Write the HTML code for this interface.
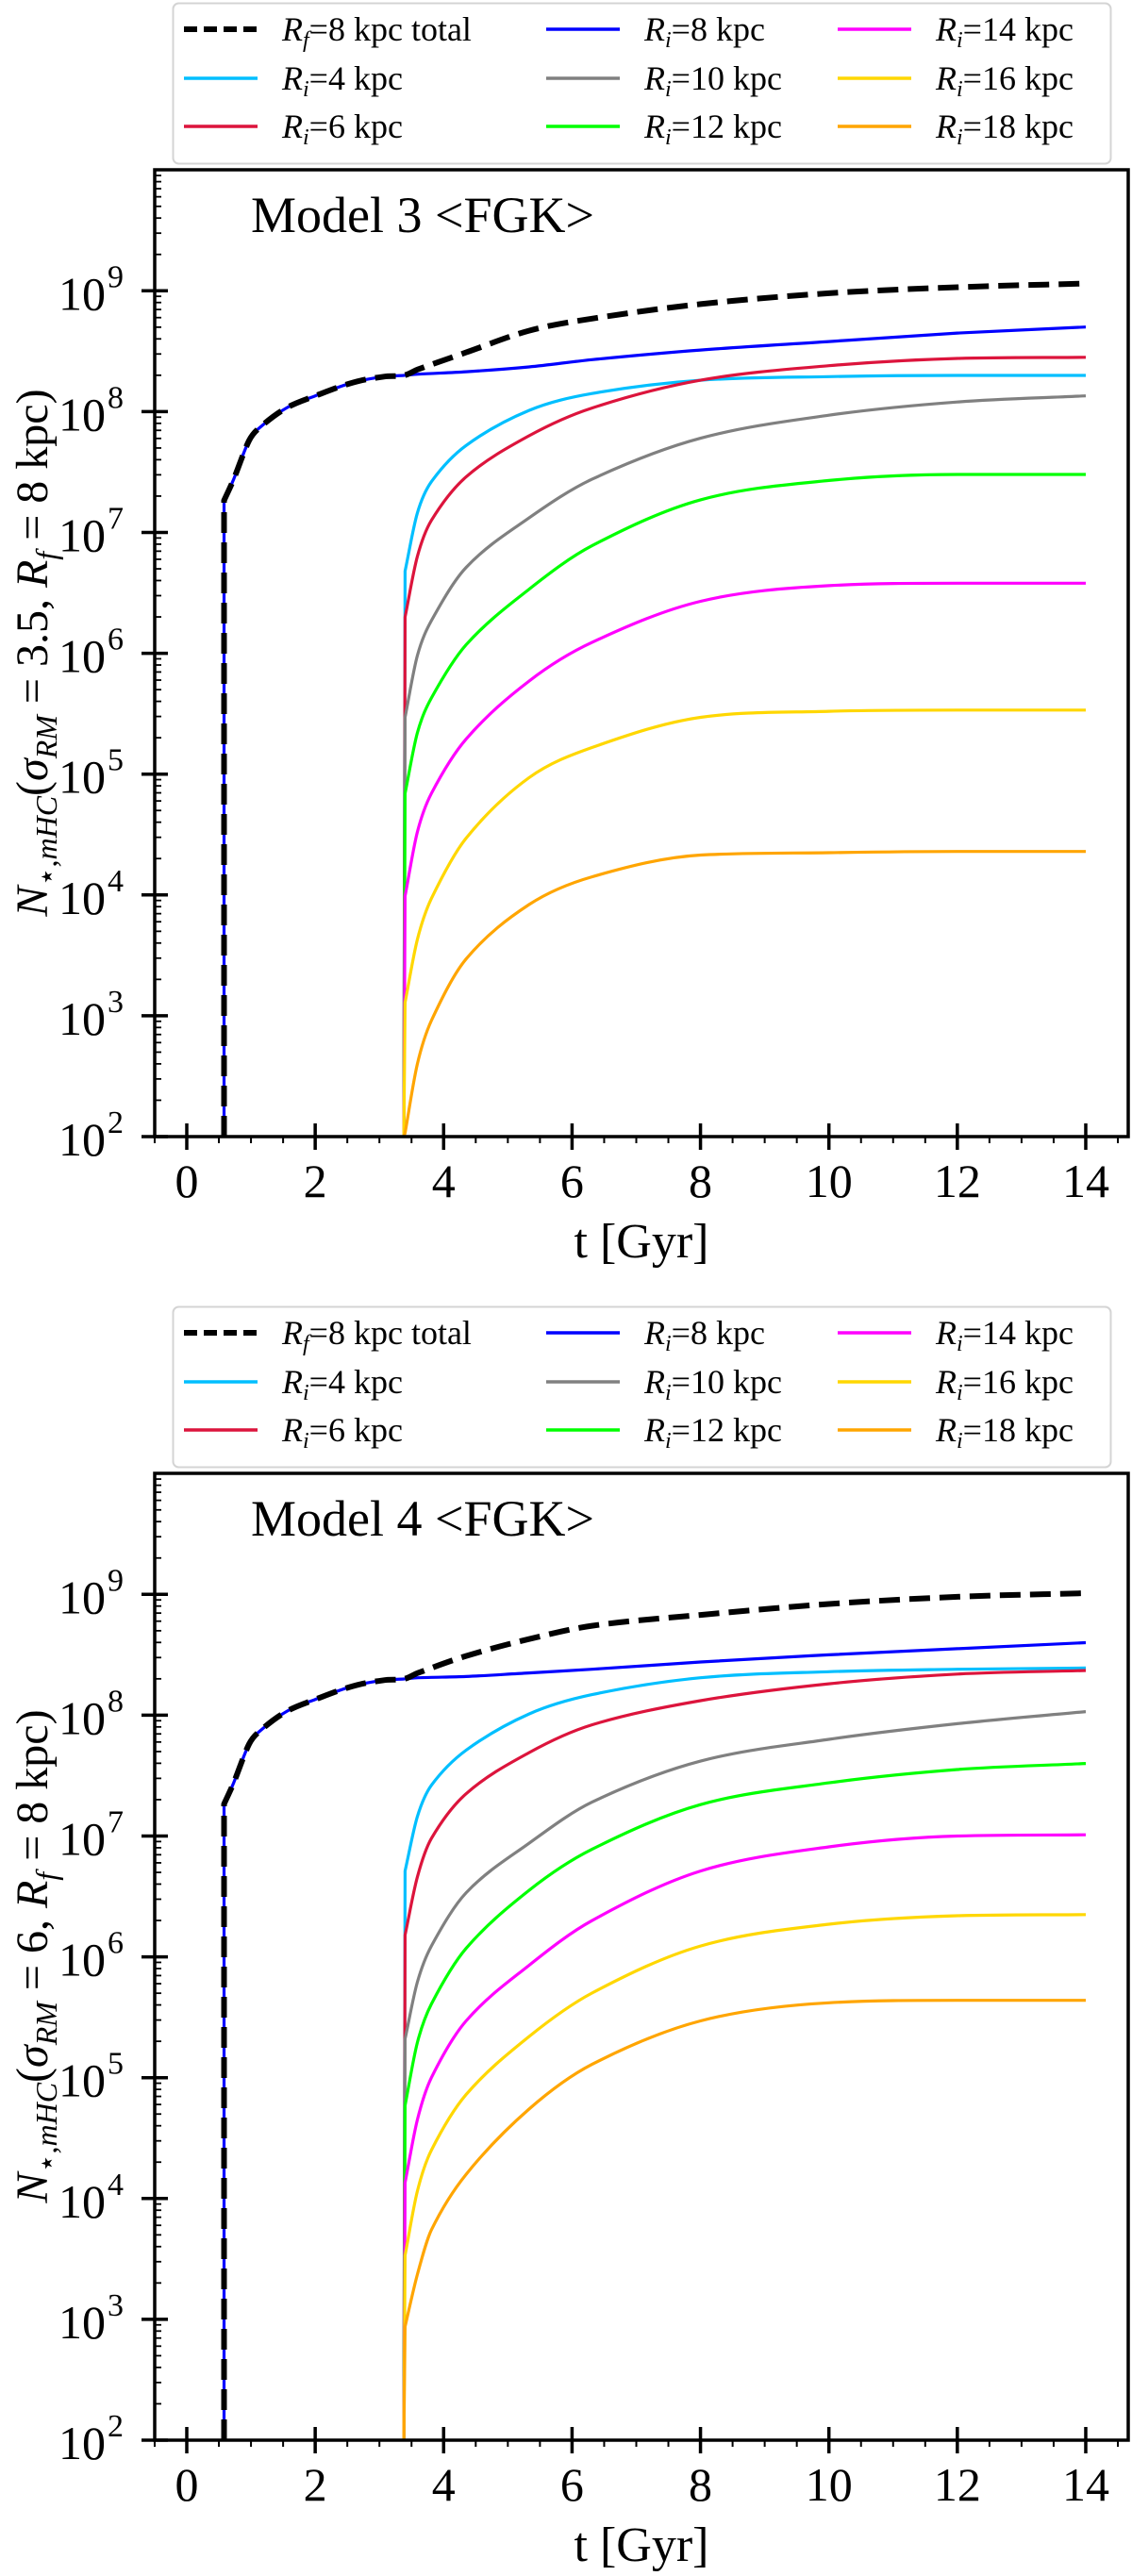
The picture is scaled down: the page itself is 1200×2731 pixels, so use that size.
<!DOCTYPE html>
<html><head><meta charset="utf-8"><style>
html,body{margin:0;padding:0;background:#fff;}
svg{display:block;font-family:"Liberation Serif",serif;}
</style></head>
<body>
<svg id="fig" width="1200" height="2731" viewBox="0 0 1200 2731" xmlns="http://www.w3.org/2000/svg"></svg>
<script>
// ---- data (log10 of N) ----
const earlyT = [0.58, 0.58, 0.73, 0.97, 1.14, 1.55, 2.0, 2.58, 3.07, 3.38];
const earlyLog = [2, 7.265, 7.44, 7.76, 7.87, 8.03, 8.13, 8.24, 8.29, 8.30];
const lateT = [3.6, 4.35, 5.33, 6.31, 8, 10, 12, 14];
const colT = [3.38, 3.40, 3.59, 3.81, 4.35, 5.33, 6.31, 8, 10, 12, 14];

const m3Total = [8.35, 8.49, 8.67, 8.77, 8.89, 8.98, 9.03, 9.06];
const m3Blue = [8.31, 8.33, 8.37, 8.43, 8.51, 8.58, 8.65, 8.70];
const m3Cyan = [2, 6.68, 7.16, 7.42, 7.72, 8.01, 8.15, 8.26, 8.29, 8.30, 8.30];
const m3Red = [2, 6.30, 6.80, 7.10, 7.46, 7.80, 8.03, 8.26, 8.38, 8.44, 8.45];
const m3Gray = [2, 5.47, 5.98, 6.27, 6.71, 7.12, 7.44, 7.78, 7.97, 8.08, 8.13];
const m3Green = [2, 4.84, 5.34, 5.63, 6.07, 6.53, 6.89, 7.27, 7.43, 7.48, 7.48];
const m3Magenta = [2, 3.99, 4.52, 4.84, 5.29, 5.77, 6.09, 6.43, 6.56, 6.58, 6.58];
const m3Yellow = [2, 3.11, 3.63, 3.97, 4.47, 4.97, 5.22, 5.47, 5.52, 5.53, 5.53];
const m3Orange = [2, 2.03, 2.60, 2.96, 3.47, 3.92, 4.15, 4.33, 4.35, 4.36, 4.36];

const m4Total = [8.35, 8.49, 8.63, 8.74, 8.83, 8.92, 8.98, 9.01];
const m4Blue = [8.31, 8.32, 8.35, 8.38, 8.44, 8.50, 8.55, 8.60];
const m4Cyan = [2, 6.71, 7.16, 7.42, 7.71, 8.01, 8.17, 8.31, 8.36, 8.38, 8.39];
const m4Red = [2, 6.18, 6.66, 6.98, 7.35, 7.69, 7.92, 8.12, 8.26, 8.34, 8.37];
const m4Gray = [2, 5.32, 5.79, 6.09, 6.53, 6.94, 7.28, 7.62, 7.80, 7.93, 8.03];
const m4Green = [2, 4.77, 5.29, 5.61, 6.07, 6.55, 6.89, 7.26, 7.44, 7.55, 7.60];
const m4Magenta = [2, 4.13, 4.65, 5.00, 5.47, 5.93, 6.30, 6.71, 6.91, 7.00, 7.01];
const m4Yellow = [2, 3.53, 4.06, 4.40, 4.86, 5.34, 5.70, 6.09, 6.27, 6.34, 6.35];
const m4Orange = [2, 2.94, 3.37, 3.74, 4.20, 4.74, 5.11, 5.47, 5.62, 5.64, 5.64];

const xTicks = [0, 2, 4, 6, 8, 10, 12, 14];
const yTickExp = [2, 3, 4, 5, 6, 7, 8, 9];

const NS = "http://www.w3.org/2000/svg";
const svg = document.getElementById('fig');
function mk(tag, attrs, parent) {
  const e = document.createElementNS(NS, tag);
  for (const k in attrs) e.setAttribute(k, attrs[k]);
  (parent || svg).appendChild(e);
  return e;
}
const X0 = 198, XS = 68.07, YB = 1205, YS = 128.1;
const FL = 164, FR = 1196, FT = 180;

function smoothPath(P) {
  let d = 'M' + P[0][0].toFixed(1) + ',' + P[0][1].toFixed(1) + ' L' + P[1][0].toFixed(1) + ',' + P[1][1].toFixed(1);
  const Q = P.slice(1), n = Q.length;
  const dx = [], s = [];
  for (let i = 0; i < n - 1; i++) { dx.push(Q[i+1][0] - Q[i][0]); s.push((Q[i+1][1] - Q[i][1]) / (Q[i+1][0] - Q[i][0])); }
  const m = new Array(n);
  m[0] = s[0]; m[n-1] = s[n-2];
  for (let i = 1; i < n - 1; i++) {
    if (s[i-1] * s[i] <= 0) { m[i] = 0; continue; }
    let c = (Q[i+1][1] - Q[i-1][1]) / (Q[i+1][0] - Q[i-1][0]);
    const lim = 3 * Math.min(Math.abs(s[i-1]), Math.abs(s[i]));
    if (Math.abs(c) > lim) c = Math.sign(c) * lim;
    m[i] = c;
  }
  for (let i = 0; i < n - 1; i++) {
    const h = dx[i] / 3;
    d += ' C' + (Q[i][0] + h).toFixed(1) + ',' + (Q[i][1] + m[i]*h).toFixed(1) + ' ' +
      (Q[i+1][0] - h).toFixed(1) + ',' + (Q[i+1][1] - m[i+1]*h).toFixed(1) + ' ' +
      Q[i+1][0].toFixed(1) + ',' + Q[i+1][1].toFixed(1);
  }
  return d;
}

function drawPanel(off, model, sigma, total, blue, series) {
  const g = mk('g', {transform: 'translate(0,' + off + ')'});
  
  
  const xp = t => X0 + XS * t;
  const yp = l => YB - (Math.max(l, 2) - 2) * YS;
  const clip = mk('clipPath', {id: 'clip' + model}, g);
  mk('rect', {x: FL, y: FT, width: FR - FL, height: YB - FT}, clip);
  const plot = mk('g', {'clip-path': 'url(#clip' + model + ')'}, g);
  
  
  const pts = (ts, ls) => ts.map((t, i) => [xp(t), yp(ls[i])]);
  series.forEach(s => {
    const pl = mk('path', {d: smoothPath(pts(colT, s.data)), fill: 'none', stroke: s.color, 'stroke-width': 3.2, 'stroke-linejoin': 'round'}, plot);
    
    
  });
  const bt = earlyT.concat(lateT), bl = earlyLog.concat(blue), tl = earlyLog.concat(total);
  const bp = mk('path', {d: smoothPath(pts(bt, bl)), fill: 'none', stroke: '#0000ff', 'stroke-width': 3.2, 'stroke-linejoin': 'round'}, plot);
  
  
  const tp = mk('path', {d: smoothPath(pts(bt, tl)), fill: 'none', stroke: '#000', 'stroke-width': 6, 'stroke-dasharray': '22,10', 'stroke-linejoin': 'round'}, plot);
  
  
  const fr = mk('rect', {x: FL, y: FT, width: FR - FL, height: YB - FT, fill: 'none', stroke: '#000', 'stroke-width': 3.5}, g);
  
  
  for (let t = -0.5; t <= 14.6; t += 0.5) {
    if (Math.abs(t - Math.round(t / 2) * 2) < 1e-6) continue;
    mk('line', {x1: xp(t), x2: xp(t), y1: YB, y2: YB + 7, stroke: '#000', 'stroke-width': 2}, g);
  }
  xTicks.forEach(v => {
    const ln = mk('line', {x1: xp(v), x2: xp(v), y1: YB - 14, y2: YB + 14, stroke: '#000', 'stroke-width': 3.5}, g);
    
    
    const tx = mk('text', {x: xp(v), y: YB + 64, 'text-anchor': 'middle', 'font-size': 50}, g);
    tx.textContent = v;
    
    
  });
  for (let e = 2; e < 10; e++) {
    for (let m = 2; m < 10; m++) {
      const y = yp(e + Math.log10(m));
      mk('line', {x1: FL, x2: FL + 7, y1: y, y2: y, stroke: '#000', 'stroke-width': 1.8}, g);
    }
  }
  yTickExp.forEach(e => {
    const y = yp(e);
    const ln = mk('line', {x1: FL - 14, x2: FL + 14, y1: y, y2: y, stroke: '#000', 'stroke-width': 3.5}, g);
    
    
    const tx = mk('text', {x: 112, y: y + 20, 'text-anchor': 'end', 'font-size': 50}, g);
    tx.textContent = '10';
    
    
    const sp = mk('text', {x: 114, y: y - 4, 'font-size': 34}, g);
    sp.textContent = e;
    
    
  });
  const xl = mk('text', {x: 680, y: YB + 128, 'text-anchor': 'middle', 'font-size': 52}, g);
  xl.textContent = 't [Gyr]';
  
  
  const yl = mk('text', {x: 0, y: 0, 'text-anchor': 'middle', 'font-size': 48, transform: 'translate(50,692) rotate(-90)'}, g);
  
  
  yl.innerHTML = '<tspan font-style="italic">N</tspan><tspan font-size="32" dy="10">⋆,<tspan font-style="italic">mHC</tspan></tspan><tspan dy="-10">(</tspan><tspan font-style="italic">σ</tspan><tspan font-size="32" dy="10" font-style="italic">RM</tspan><tspan dy="-10"> = ' + sigma + ', </tspan><tspan font-style="italic">R</tspan><tspan font-size="32" dy="10" font-style="italic">f</tspan><tspan dy="-10"> = 8 kpc)</tspan>';
  const ti = mk('text', {x: 266, y: 246, 'font-size': 54}, g);
  ti.textContent = 'Model ' + model + ' <FGK>';
  
  
  const lg = mk('g', {}, g);
  
  
  mk('rect', {x: 183.5, y: 3.5, width: 994, height: 170, rx: 6, fill: '#fff', stroke: '#d4d4d4', 'stroke-width': 2}, lg);
  const entries = [
    {c: '#000', dash: true, sub: 'f', txt: '=8 kpc total', col: 0, row: 0},
    {c: '#00bfff', sub: 'i', txt: '=4 kpc', col: 0, row: 1},
    {c: '#dc143c', sub: 'i', txt: '=6 kpc', col: 0, row: 2},
    {c: '#0000ff', sub: 'i', txt: '=8 kpc', col: 1, row: 0},
    {c: '#808080', sub: 'i', txt: '=10 kpc', col: 1, row: 1},
    {c: '#00ff00', sub: 'i', txt: '=12 kpc', col: 1, row: 2},
    {c: '#ff00ff', sub: 'i', txt: '=14 kpc', col: 2, row: 0},
    {c: '#ffd700', sub: 'i', txt: '=16 kpc', col: 2, row: 1},
    {c: '#ffa500', sub: 'i', txt: '=18 kpc', col: 2, row: 2}
  ];
  const colX = [195, 579, 888], rowY = [31, 83, 134];
  entries.forEach(en => {
    const x = colX[en.col], y = rowY[en.row];
    const eg = mk('g', {}, lg);
    
    
    mk('line', {x1: x, x2: x + 78, y1: y, y2: y, stroke: en.c, 'stroke-width': en.dash ? 6 : 3.5, 'stroke-dasharray': en.dash ? '14,7' : 'none'}, eg);
    const tx = mk('text', {x: x + 104, y: y + 12, 'font-size': 36}, eg);
    tx.innerHTML = '<tspan font-style="italic">R</tspan><tspan font-size="24" dy="7" font-style="italic">' + en.sub + '</tspan><tspan dy="-7">' + en.txt + '</tspan>';
  });
}

drawPanel(0, 3, '3.5', m3Total, m3Blue, [
  {r: 4, color: '#00bfff', data: m3Cyan}, {r: 6, color: '#dc143c', data: m3Red},
  {r: 10, color: '#808080', data: m3Gray}, {r: 12, color: '#00ff00', data: m3Green},
  {r: 14, color: '#ff00ff', data: m3Magenta}, {r: 16, color: '#ffd700', data: m3Yellow},
  {r: 18, color: '#ffa500', data: m3Orange}]);
drawPanel(1382, 4, '6', m4Total, m4Blue, [
  {r: 4, color: '#00bfff', data: m4Cyan}, {r: 6, color: '#dc143c', data: m4Red},
  {r: 10, color: '#808080', data: m4Gray}, {r: 12, color: '#00ff00', data: m4Green},
  {r: 14, color: '#ff00ff', data: m4Magenta}, {r: 16, color: '#ffd700', data: m4Yellow},
  {r: 18, color: '#ffa500', data: m4Orange}]);
</script>
</body></html>
